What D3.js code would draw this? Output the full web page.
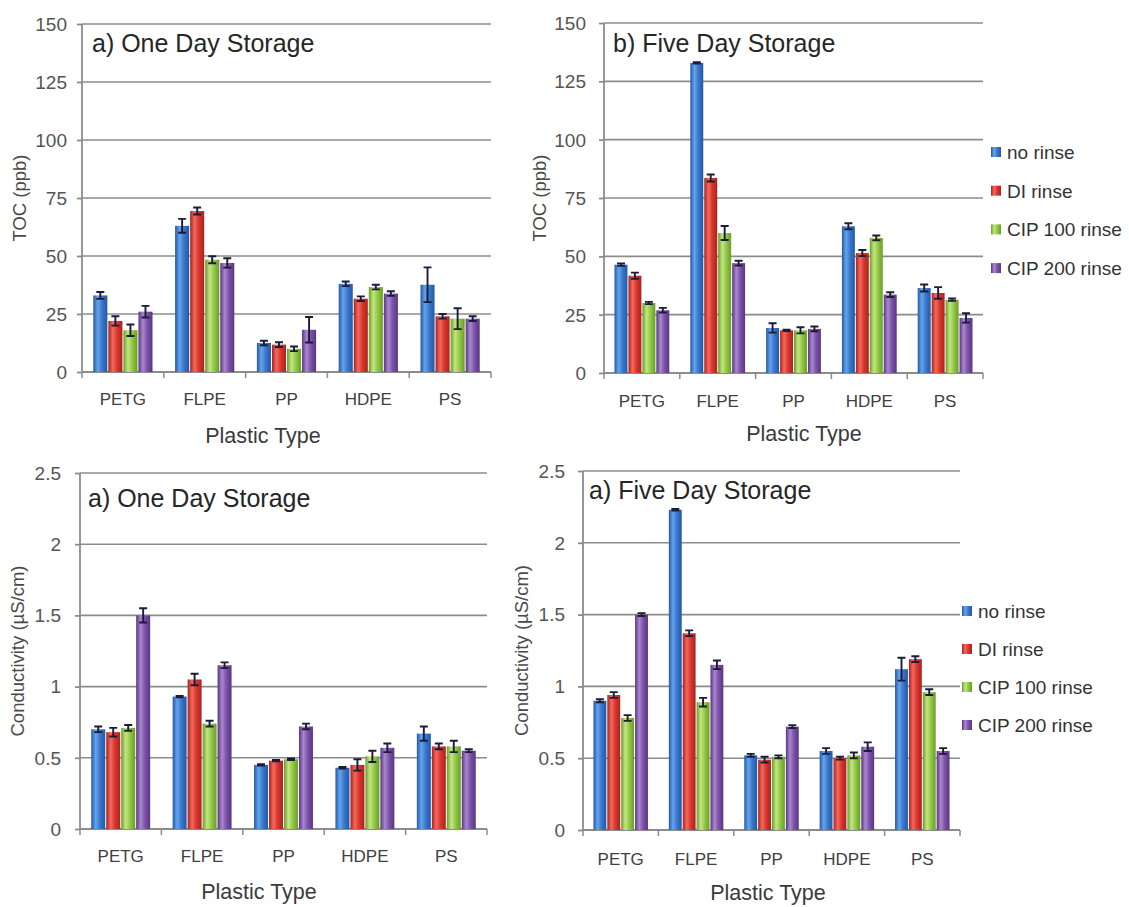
<!DOCTYPE html>
<html>
<head>
<meta charset="utf-8">
<script src="https://cdn.jsdelivr.net/npm/d3@7"></script>
<style>
  body { margin: 0; background: #fff; }
  svg { display: block; font-family: "Liberation Sans", Arial, sans-serif; }
  .grid line { stroke: #8c8c8c; stroke-width: 1.6; }
  .axis path, .axis line { stroke: #8c8c8c; stroke-width: 1.8; }
  .tick-label { fill: #555; font-size: 19px; }
  .cat-label { fill: #404040; font-size: 17px; }
  .axis-title { fill: #3a3a3a; font-size: 21.5px; }
  .y-title { fill: #4a4a4a; font-size: 18.5px; }
  .panel-title { fill: #262626; font-size: 25px; }
  .legend text { fill: #333; font-size: 19px; }
  .err { stroke: #1c1c3a; stroke-width: 1.9; fill: none; }
</style>
</head>
<body>
<svg id="chart" width="1129" height="907"></svg>
<script>

// Data ////////////////////////////////////

const categories = ["PETG", "FLPE", "PP", "HDPE", "PS"];
const seriesNames = ["no rinse", "DI rinse", "CIP 100 rinse", "CIP 200 rinse"];

// rows = series (no rinse, DI, CIP 100, CIP 200), columns = categories
const tocDay1 = [
    [33, 63, 12.5, 38, 37.6],
    [22, 69.4, 11.8, 31.6, 24],
    [18, 48.4, 10, 36.6, 23],
    [26, 47, 18.2, 33.8, 23]
];
const tocDay1Err = [
    [1.5, 3, 1, 1, 7.5],
    [2, 1.5, 1, 1, 1],
    [2.5, 1.5, 1, 1, 4.5],
    [2.5, 2, 5.5, 1, 1]
];

const tocDay5 = [
    [46.4, 132.9, 19.3, 62.9, 36.4],
    [41.7, 83.6, 18.3, 51.4, 34.3],
    [30, 60, 18.3, 57.9, 31.4],
    [26.9, 47.1, 18.9, 33.6, 23.6]
];
const tocDay5Err = [
    [0.5, 0.3, 2, 1.3, 1.5],
    [1.3, 1.5, 0.3, 1.3, 2.5],
    [0.5, 3, 1.3, 1, 0.5],
    [1, 1, 1, 1, 2]
];

const condDay1 = [
    [0.70, 0.93, 0.45, 0.43, 0.67],
    [0.68, 1.05, 0.48, 0.45, 0.58],
    [0.71, 0.74, 0.49, 0.51, 0.58],
    [1.50, 1.15, 0.72, 0.57, 0.55]
];
const condDay1Err = [
    [0.02, 0.005, 0.005, 0.005, 0.05],
    [0.03, 0.04, 0.005, 0.04, 0.02],
    [0.02, 0.02, 0.005, 0.04, 0.04],
    [0.05, 0.02, 0.02, 0.03, 0.01]
];

const condDay5 = [
    [0.90, 2.23, 0.52, 0.55, 1.12],
    [0.94, 1.37, 0.49, 0.50, 1.19],
    [0.78, 0.89, 0.51, 0.52, 0.96],
    [1.50, 1.15, 0.72, 0.58, 0.55]
];
const condDay5Err = [
    [0.01, 0.005, 0.01, 0.02, 0.08],
    [0.02, 0.02, 0.02, 0.01, 0.02],
    [0.02, 0.03, 0.01, 0.02, 0.02],
    [0.01, 0.03, 0.01, 0.03, 0.02]
];

const tocTicks = [0, 25, 50, 75, 100, 125, 150];
const condTicks = [0, 0.5, 1, 1.5, 2, 2.5];

// colours: [dark edge, highlight, base]
const seriesColors = [
    ["#2358a6", "#66a4ec", "#3a78cc"],
    ["#a8241f", "#f4695c", "#d9362e"],
    ["#6b9b2a", "#c3e682", "#93c947"],
    ["#583680", "#aa88ce", "#7d52ab"]
];

// Chart ////////////////////////////////////

const svg = d3.select("#chart");

const defs = svg.append("defs");
seriesColors.forEach((c, i) => {
    const g = defs.append("linearGradient")
        .attr("id", "grad" + i)
        .attr("x1", 0).attr("x2", 1).attr("y1", 0).attr("y2", 0);
    g.append("stop").attr("offset", "0%").attr("stop-color", c[0]);
    g.append("stop").attr("offset", "32%").attr("stop-color", c[1]);
    g.append("stop").attr("offset", "62%").attr("stop-color", c[2]);
    g.append("stop").attr("offset", "100%").attr("stop-color", c[0]);
});

const panels = [
    { values: tocDay1, errors: tocDay1Err, ticks: tocTicks, fmt: d => d,
      x0: 82, x1: 491, yTop: 24, yBot: 372,
      title: "a) One Day Storage", titleX: 92, titleY: 52,
      yLabel: "TOC (ppb)", yLabelX: 20, tickRight: 67,
      catY: 405, xTitleX: 263, xTitleY: 443, legend: null },
    { values: tocDay5, errors: tocDay5Err, ticks: tocTicks, fmt: d => d,
      x0: 604, x1: 983, yTop: 23, yBot: 373,
      title: "b) Five Day Storage", titleX: 613, titleY: 52,
      yLabel: "TOC (ppb)", yLabelX: 540, tickRight: 586,
      catY: 407, xTitleX: 804, xTitleY: 441,
      legend: { x: 991, y: 152, step: 38.7 } },
    { values: condDay1, errors: condDay1Err, ticks: condTicks, fmt: d => String(d),
      x0: 80, x1: 487, yTop: 473, yBot: 829,
      title: "a) One Day Storage", titleX: 88, titleY: 507,
      yLabel: "Conductivity (µS/cm)", yLabelX: 18, tickRight: 61,
      catY: 862, xTitleX: 259, xTitleY: 899, legend: null },
    { values: condDay5, errors: condDay5Err, ticks: condTicks, fmt: d => String(d),
      x0: 583, x1: 960, yTop: 471, yBot: 830,
      title: "a) Five Day Storage", titleX: 589, titleY: 499,
      yLabel: "Conductivity (µS/cm)", yLabelX: 522, tickRight: 565,
      catY: 865, xTitleX: 768, xTitleY: 900,
      legend: { x: 962, y: 611, step: 38 } }
];

panels.forEach(drawPanel);

function drawPanel(p) {

    const g = svg.append("g");
    const tickMax = p.ticks[p.ticks.length - 1];

    const y = d3.scaleLinear()
        .domain([0, tickMax])
        .range([p.yBot, p.yTop]);

    const x = d3.scaleBand()
        .domain(categories)
        .range([p.x0, p.x1])
        .padding(0);

    const bw = x.bandwidth();
    const xs = d3.scaleBand()
        .domain(d3.range(seriesNames.length))
        .range([bw * 0.132, bw * 0.868])
        .padding(0);

    // Grid lines

    g.append("g")
        .attr("class", "grid")
        .selectAll("line")
        .data(p.ticks.filter(t => t > 0))
        .join("line")
        .attr("x1", p.x0)
        .attr("x2", p.x1)
        .attr("y1", d => y(d))
        .attr("y2", d => y(d));

    // Y axis

    const yAxis = g.append("g")
        .attr("class", "axis")
        .attr("transform", `translate(${ p.x0 },0)`)
        .call(d3.axisLeft(y).tickValues(p.ticks).tickSize(5).tickSizeOuter(0).tickFormat(""));
    yAxis.select(".domain").attr("d", `M0,${ p.yBot + 1 }V${ p.yTop }`);

    g.append("g")
        .selectAll("text")
        .data(p.ticks)
        .join("text")
        .attr("class", "tick-label")
        .attr("x", p.tickRight)
        .attr("y", d => y(d))
        .attr("dy", "0.36em")
        .attr("text-anchor", "end")
        .text(p.fmt);

    // X axis

    g.append("line")
        .attr("x1", p.x0).attr("x2", p.x1)
        .attr("y1", p.yBot).attr("y2", p.yBot)
        .attr("stroke", "#8c8c8c")
        .attr("stroke-width", 1.8);

    g.append("g")
        .selectAll("line")
        .data(d3.range(categories.length + 1))
        .join("line")
        .attr("x1", i => p.x0 + i * bw)
        .attr("x2", i => p.x0 + i * bw)
        .attr("y1", p.yBot)
        .attr("y2", p.yBot + 6)
        .attr("stroke", "#8c8c8c")
        .attr("stroke-width", 1.5);

    g.append("g")
        .selectAll("text")
        .data(categories)
        .join("text")
        .attr("class", "cat-label")
        .attr("x", d => x(d) + bw / 2)
        .attr("y", p.catY)
        .attr("text-anchor", "middle")
        .text(d => d);

    // Bars

    const barData = [];
    p.values.forEach((row, s) => row.forEach((v, c) => {
        barData.push({ s, cat: categories[c], v, e: p.errors[s][c] });
    }));

    g.append("g")
        .selectAll("rect")
        .data(barData)
        .join("rect")
        .attr("x", d => x(d.cat) + xs(d.s) + 0.5)
        .attr("width", xs.bandwidth() - 1)
        .attr("y", d => y(d.v))
        .attr("height", d => p.yBot - y(d.v))
        .attr("fill", d => `url(#grad${ d.s })`);

    // Error bars

    const cap = 4;
    g.append("g").attr("class", "err")
        .selectAll("path")
        .data(barData)
        .join("path")
        .attr("d", d => {
            const cx = x(d.cat) + xs(d.s) + xs.bandwidth() / 2;
            const y0 = y(d.v - d.e), y1 = y(d.v + d.e);
            return `M ${ cx - cap } ${ y1 } H ${ cx + cap } M ${ cx } ${ y1 } V ${ y0 } M ${ cx - cap } ${ y0 } H ${ cx + cap }`;
        });

    // Titles

    g.append("text")
        .attr("class", "panel-title")
        .attr("x", p.titleX)
        .attr("y", p.titleY)
        .text(p.title);

    g.append("text")
        .attr("class", "y-title")
        .attr("transform", `translate(${ p.yLabelX },${ (p.yTop + p.yBot) / 2 }) rotate(-90)`)
        .attr("dy", "0.35em")
        .attr("text-anchor", "middle")
        .text(p.yLabel);

    g.append("text")
        .attr("class", "axis-title")
        .attr("x", p.xTitleX)
        .attr("y", p.xTitleY)
        .attr("text-anchor", "middle")
        .text("Plastic Type");

    // Legend

    if (p.legend) {
        const lg = g.append("g").attr("class", "legend");
        seriesNames.forEach((name, i) => {
            const ly = p.legend.y + i * p.legend.step;
            lg.append("rect")
                .attr("x", p.legend.x)
                .attr("y", ly - 5)
                .attr("width", 10)
                .attr("height", 10)
                .attr("fill", `url(#grad${ i })`);
            lg.append("text")
                .attr("x", p.legend.x + 16)
                .attr("y", ly)
                .attr("dy", "0.36em")
                .text(name);
        });
    }
}
</script>
</body>
</html>
